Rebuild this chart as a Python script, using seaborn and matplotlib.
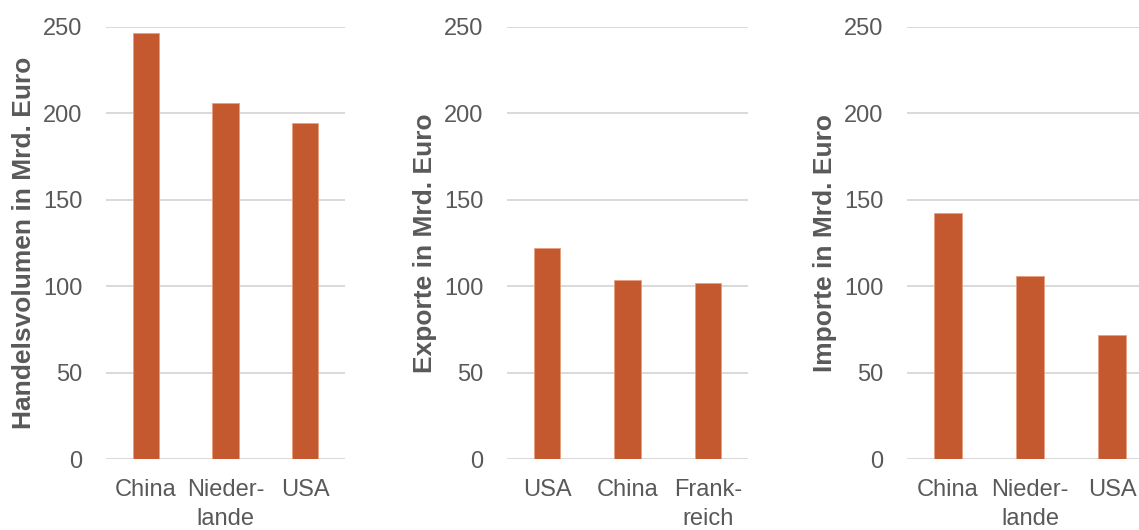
import matplotlib
matplotlib.use("Agg")
import matplotlib.pyplot as plt
import seaborn as sns
import pandas as pd

sns.set_theme(style="white")
plt.rcParams['font.family'] = ['Liberation Sans', 'DejaVu Sans']

# Data
handel_labels = ["China", "Nieder-\nlande", "USA"]
handel_values = [246, 206, 194.5]

export_labels = ["USA", "China", "Frank-\nreich"]
export_values = [121.8, 103.7, 102.0]

import_labels = ["China", "Nieder-\nlande", "USA"]
import_values = [142.3, 105.7, 72.0]

ylabels = ["Handelsvolumen in Mrd. Euro", "Exporte in Mrd. Euro", "Importe in Mrd. Euro"]

bar_color = "#C4582E"
text_color = "#595959"
grid_color = "#D9D9D9"

W, H = 1139, 530
fig = plt.figure(figsize=(W / 100, H / 100), dpi=100)

bottom = (H - 459.3) / H
height = (459.3 - 26.5) / H
lefts = [106, 507, 907]
widths = [239, 241, 246]

panels = [(handel_labels, handel_values), (export_labels, export_values), (import_labels, import_values)]

for i, ((labels, values), yl) in enumerate(zip(panels, ylabels)):
    ax = fig.add_axes([lefts[i] / W, bottom, widths[i] / W, height])
    df = pd.DataFrame({"cat": labels, "val": values})
    sns.barplot(data=df, x="cat", y="val", color=bar_color, saturation=1,
                width=0.33, ax=ax, edgecolor="#E8A080", linewidth=0.6, zorder=3)
    ax.set_ylim(0, 250)
    ax.set_yticks([0, 50, 100, 150, 200, 250])
    ax.yaxis.grid(True, color=grid_color, linewidth=1.4, zorder=0)
    ax.set_axisbelow(True)
    for s in ax.spines.values():
        s.set_visible(False)
    ax.tick_params(axis='both', length=0, labelsize=17, colors=text_color)
    ax.tick_params(axis='y', pad=17)
    ax.tick_params(axis='x', pad=14)
    for t in ax.get_xticklabels():
        t.set_linespacing(1.4)
    ax.set_xlabel("")
    ax.set_ylabel(yl, fontsize=19, fontweight='bold', color=text_color, labelpad=5)

fig.savefig("out.png", dpi=100)
